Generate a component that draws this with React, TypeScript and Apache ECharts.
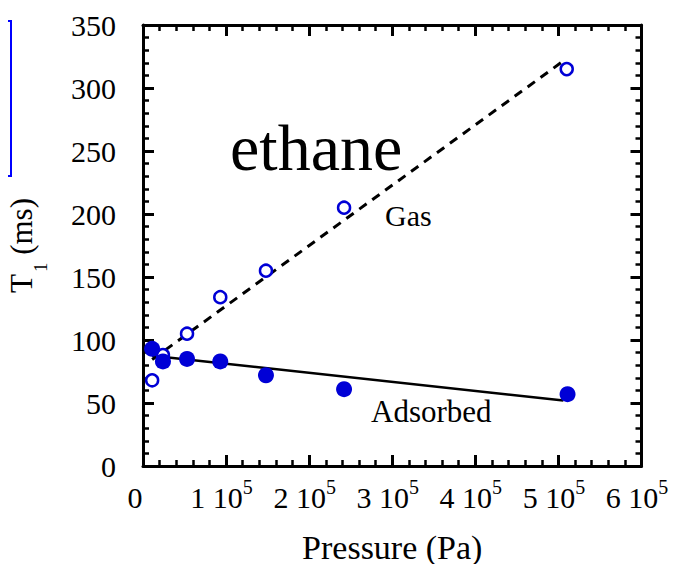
import React, { useEffect, useRef } from "react";
import * as echarts from "echarts";

const gasX = [11000, 24000, 53000, 93000, 148000, 242000, 510000];
const gasY = [68, 88, 105, 134, 155, 205, 315];
const adsX = [11000, 24000, 53000, 93000, 148000, 242000, 511000];
const adsY = [93, 83, 85, 83, 72, 61, 57];
const gasFitX = [11000, 505000];
const gasFitY = [84.5, 321];
const adsFitX = [11000, 506000];
const adsFitY = [87.5, 52];
const xTicks = [0, 100000, 200000, 300000, 400000, 500000, 600000];
const yTicks = [0, 50, 100, 150, 200, 250, 300, 350];

const FONT = "'Liberation Serif', 'Times New Roman', serif";
const BLUE = "#0000d6";

const pairs = (xs: number[], ys: number[]) => xs.map((x, i) => [x, ys[i]]);

export default function App() {
  const ref = useRef<HTMLDivElement>(null);
  useEffect(() => {
    if (!ref.current) return;
    const chart = echarts.init(ref.current, null, { renderer: "svg" });
    const axisCommon = {
      type: "value" as const,
      axisLine: { show: true, onZero: false, lineStyle: { color: "#000", width: 3 } },
      axisTick: { show: true, inside: true, length: 11, lineStyle: { color: "#000", width: 3 } },
      minorTick: { show: true, splitNumber: 5, length: 6, lineStyle: { color: "#000", width: 2.5 } },
      splitLine: { show: false },
      minorSplitLine: { show: false },
    };
    const xLabelRich = {
      a: { fontFamily: FONT, fontSize: 30, color: "#000", padding: [5, 0, 0, 0], verticalAlign: "top", lineHeight: 30 },
      s: { fontFamily: FONT, fontSize: 20, color: "#000", padding: [0, 9, 0, 0], verticalAlign: "top", lineHeight: 20 },
      z: { fontFamily: FONT, fontSize: 30, color: "#000", padding: [5, 16, 0, 0], verticalAlign: "top", lineHeight: 30 },
    };
    chart.setOption({
      animation: false,
      grid: { left: 143, right: 35.5, top: 25, bottom: 106, outerBoundsMode: "none" },
      xAxis: [
        {
          ...axisCommon,
          position: "bottom",
          min: xTicks[0],
          max: xTicks[xTicks.length - 1],
          interval: xTicks[1] - xTicks[0],
          axisLabel: {
            margin: 11,
            fontFamily: FONT,
            fontSize: 30,
            color: "#000",
            formatter: (v: number) => (v === 0 ? "{z|0}" : `{a|${v / 100000} 10}{s|5}`),
            rich: xLabelRich,
          },
          name: "Pressure (Pa)",
          nameLocation: "middle",
          nameGap: 64,
          nameTextStyle: { fontFamily: FONT, fontSize: 34, color: "#000" },
        },
        {
          ...axisCommon,
          position: "top",
          min: xTicks[0],
          max: xTicks[xTicks.length - 1],
          interval: xTicks[1] - xTicks[0],
          axisLabel: { show: false },
        },
      ],
      yAxis: [
        {
          ...axisCommon,
          position: "left",
          min: yTicks[0],
          max: yTicks[yTicks.length - 1],
          interval: yTicks[1] - yTicks[0],
          axisLabel: { margin: 27, fontFamily: FONT, fontSize: 30, color: "#000" },
          name: "{a|T}{b|1}{a| (ms)}",
          nameLocation: "middle",
          nameGap: 106,
          nameTextStyle: {
            rich: {
              a: { fontFamily: FONT, fontSize: 31, color: "#000", verticalAlign: "top", lineHeight: 31 },
              b: { fontFamily: FONT, fontSize: 19, color: "#000", verticalAlign: "top", lineHeight: 19, padding: [25, 0, 0, 2] },
            },
          },
        },
        {
          ...axisCommon,
          position: "right",
          min: yTicks[0],
          max: yTicks[yTicks.length - 1],
          interval: yTicks[1] - yTicks[0],
          axisLabel: { show: false },
        },
      ],
      graphic: {
        elements: [
          {
            type: "rect",
            z: 100,
            shape: { x: -10, y: 21, width: 21, height: 155 },
            style: { fill: "transparent", stroke: "#0000ff", lineWidth: 2 },
          },
          {
            type: "text",
            x: 230,
            y: 147,
            style: { text: "ethane", fontFamily: FONT, fontSize: 66, fill: "#000", verticalAlign: "middle" },
          },
          {
            type: "text",
            x: 385,
            y: 215,
            style: { text: "Gas", fontFamily: FONT, fontSize: 30, fill: "#000", verticalAlign: "middle" },
          },
          {
            type: "text",
            x: 371,
            y: 411,
            style: { text: "Adsorbed", fontFamily: FONT, fontSize: 31, fill: "#000", verticalAlign: "middle" },
          },
        ],
      },
      series: [
        {
          type: "line",
          data: pairs(gasFitX, gasFitY),
          showSymbol: false,
          symbol: "none",
          lineStyle: { color: "#000", width: 3, type: [9, 7] },
          z: 2,
        },
        {
          type: "line",
          data: pairs(adsFitX, adsFitY),
          showSymbol: false,
          symbol: "none",
          lineStyle: { color: "#000", width: 2.5 },
          z: 2,
        },
        {
          type: "scatter",
          data: pairs(gasX, gasY),
          symbol: "circle",
          symbolSize: 12,
          itemStyle: { color: "#fff", borderColor: BLUE, borderWidth: 2.5, opacity: 1 },
          z: 3,
        },
        {
          type: "scatter",
          data: pairs(adsX, adsY),
          symbol: "circle",
          symbolSize: 16,
          itemStyle: { color: BLUE, opacity: 1 },
          z: 4,
        },
      ],
    });
    return () => chart.dispose();
  }, []);
  return <div ref={ref} style={{ width: 677, height: 572, margin: -8 }} />;
}
